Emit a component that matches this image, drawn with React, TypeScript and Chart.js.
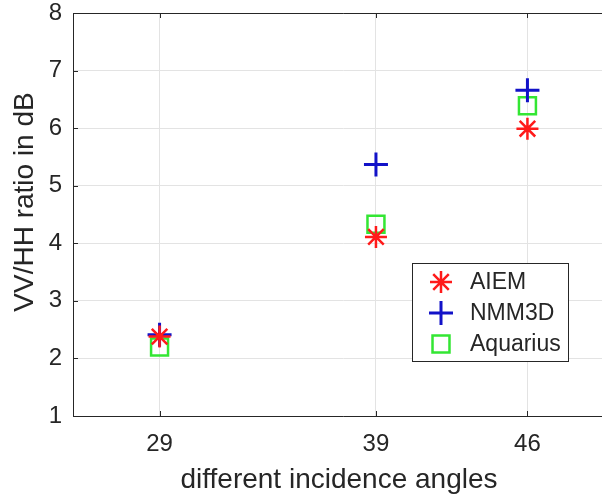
import React, { useEffect, useRef } from "react";
import { Chart, registerables } from "chart.js";
import { drawPoint } from "chart.js/helpers";

Chart.register(...registerables);

// Incidence angles (deg) and VV/HH ratios (dB) per model
const angles = [29, 39, 46];
const aiem = [2.38, 4.11, 5.99];
const nmm3d = [2.41, 5.37, 6.66];
const aquarius = [2.2, 4.33, 6.39];
const yTicks = [1, 2, 3, 4, 5, 6, 7, 8];
const xTitle = "different incidence angles";
const yTitle = "VV/HH ratio in dB";

const FONT = "'Liberation Sans', Arial, Helvetica, sans-serif";
const TEXT = "#262626";
const AXIS = "#262626";

// Frame lines, inward tick marks, x tick labels and the axis titles
const framePlugin = {
  id: "frame",
  afterDatasetsDraw(chart: any) {
    const { ctx, chartArea } = chart;
    const xs = chart.scales.x;
    const ys = chart.scales.y;
    ctx.save();
    ctx.strokeStyle = AXIS;
    ctx.lineWidth = 1;
    ctx.beginPath();
    ctx.moveTo(chartArea.left + 0.5, chartArea.top + 0.5);
    ctx.lineTo(chartArea.right, chartArea.top + 0.5);
    ctx.moveTo(chartArea.left + 0.5, chartArea.top);
    ctx.lineTo(chartArea.left + 0.5, chartArea.bottom + 0.5);
    ctx.lineTo(chartArea.right, chartArea.bottom + 0.5);
    const tl = 5;
    angles.forEach((a) => {
      const px = Math.round(xs.getPixelForValue(a)) + 0.5;
      ctx.moveTo(px, chartArea.bottom);
      ctx.lineTo(px, chartArea.bottom - tl);
      ctx.moveTo(px, chartArea.top);
      ctx.lineTo(px, chartArea.top + tl);
    });
    yTicks.forEach((v) => {
      const py = Math.round(ys.getPixelForValue(v)) + 0.5;
      ctx.moveTo(chartArea.left, py);
      ctx.lineTo(chartArea.left + tl, py);
    });
    ctx.stroke();

    ctx.fillStyle = TEXT;
    ctx.textAlign = "center";
    ctx.textBaseline = "middle";
    ctx.font = `24px ${FONT}`;
    angles.forEach((a) => {
      ctx.fillText(String(a), xs.getPixelForValue(a), chartArea.bottom + 28);
    });

    ctx.font = `28px ${FONT}`;
    ctx.fillText(xTitle, 339, 480);

    ctx.translate(25, 202);
    ctx.rotate(-Math.PI / 2);
    ctx.fillText(yTitle, 0, 0);
    ctx.restore();
  },
};

// Boxed legend inside the plot area
const boxLegendPlugin = {
  id: "boxLegend",
  afterDraw(chart: any, _args: any, opts: any) {
    const { ctx } = chart;
    const { left, top, width, height, rowGap, markerX, textX, firstRow } = opts;
    ctx.save();
    ctx.fillStyle = "#ffffff";
    ctx.fillRect(left, top, width, height);
    ctx.strokeStyle = AXIS;
    ctx.lineWidth = 1;
    ctx.strokeRect(left + 0.5, top + 0.5, width, height);
    chart.data.datasets.forEach((ds: any, i: number) => {
      const cy = top + firstRow + i * rowGap;
      ctx.strokeStyle = ds.borderColor;
      ctx.fillStyle = "rgba(0,0,0,0)";
      ctx.lineWidth = ds.borderWidth;
      drawPoint(ctx, { pointStyle: ds.pointStyle, radius: ds.pointRadius, rotation: 0, borderWidth: ds.borderWidth }, left + markerX, cy);
      ctx.fillStyle = TEXT;
      ctx.font = `23px ${FONT}`;
      ctx.textBaseline = "middle";
      ctx.textAlign = "left";
      ctx.fillText(ds.label, left + textX, cy + 1);
    });
    ctx.restore();
  },
};

export default function App() {
  const ref = useRef<HTMLCanvasElement | null>(null);

  useEffect(() => {
    if (!ref.current) return;
    const chart = new Chart(ref.current, {
      type: "scatter",
      data: {
        datasets: [
          {
            label: "AIEM",
            data: angles.map((a, i) => ({ x: a, y: aiem[i] })),
            pointStyle: "star",
            pointRadius: 11,
            borderWidth: 2.5,
            borderColor: "#ff1a1a",
            backgroundColor: "rgba(0,0,0,0)",
          },
          {
            label: "NMM3D",
            data: angles.map((a, i) => ({ x: a, y: nmm3d[i] })),
            pointStyle: "cross",
            pointRadius: 12,
            borderWidth: 3,
            borderColor: "#1212c8",
            backgroundColor: "rgba(0,0,0,0)",
          },
          {
            label: "Aquarius",
            data: angles.map((a, i) => ({ x: a, y: aquarius[i] })),
            pointStyle: "rect",
            pointRadius: 12,
            borderWidth: 2.5,
            borderColor: "#33e633",
            backgroundColor: "rgba(0,0,0,0)",
          },
        ],
      },
      options: {
        animation: false,
        responsive: false,
        maintainAspectRatio: false,
        devicePixelRatio: 1,
        layout: { autoPadding: false, padding: { top: 13, right: 0, left: 0, bottom: 0 } },
        plugins: {
          legend: { display: false },
          tooltip: { enabled: false },
          boxLegend: {
            left: 412,
            top: 263,
            width: 156,
            height: 98,
            rowGap: 31,
            firstRow: 19,
            markerX: 29,
            textX: 58,
          },
        } as any,
        scales: {
          x: {
            type: "linear",
            min: 25,
            max: 50,
            afterBuildTicks: (s: any) => {
              s.ticks = angles.map((v) => ({ value: v }));
            },
            afterFit: (s: any) => {
              s.height = 80;
            },
            grid: { color: "#e3e3e3", drawTicks: false, lineWidth: 1 },
            border: { display: false },
            ticks: { display: false },
            title: { display: false },
          },
          y: {
            min: 1,
            max: 8,
            afterBuildTicks: (s: any) => {
              s.ticks = yTicks.map((v) => ({ value: v }));
            },
            afterFit: (s: any) => {
              s.width = 73;
            },
            grid: { color: "#e3e3e3", drawTicks: false, lineWidth: 1 },
            border: { display: false },
            ticks: {
              color: TEXT,
              font: { family: FONT, size: 24, lineHeight: 0.01 },
              padding: 11,
            },
            title: { display: false },
          },
        },
      },
      plugins: [framePlugin, boxLegendPlugin],
    });
    return () => chart.destroy();
  }, []);

  return (
    <div
      style={{
        position: "absolute",
        left: 0,
        top: 0,
        width: 602,
        height: 496,
        overflow: "hidden",
        background: "#ffffff",
      }}
    >
      <div style={{ width: 614, height: 496 }}>
        <canvas ref={ref} width={614} height={496} style={{ display: "block", width: 614, height: 496 }} />
      </div>
    </div>
  );
}
